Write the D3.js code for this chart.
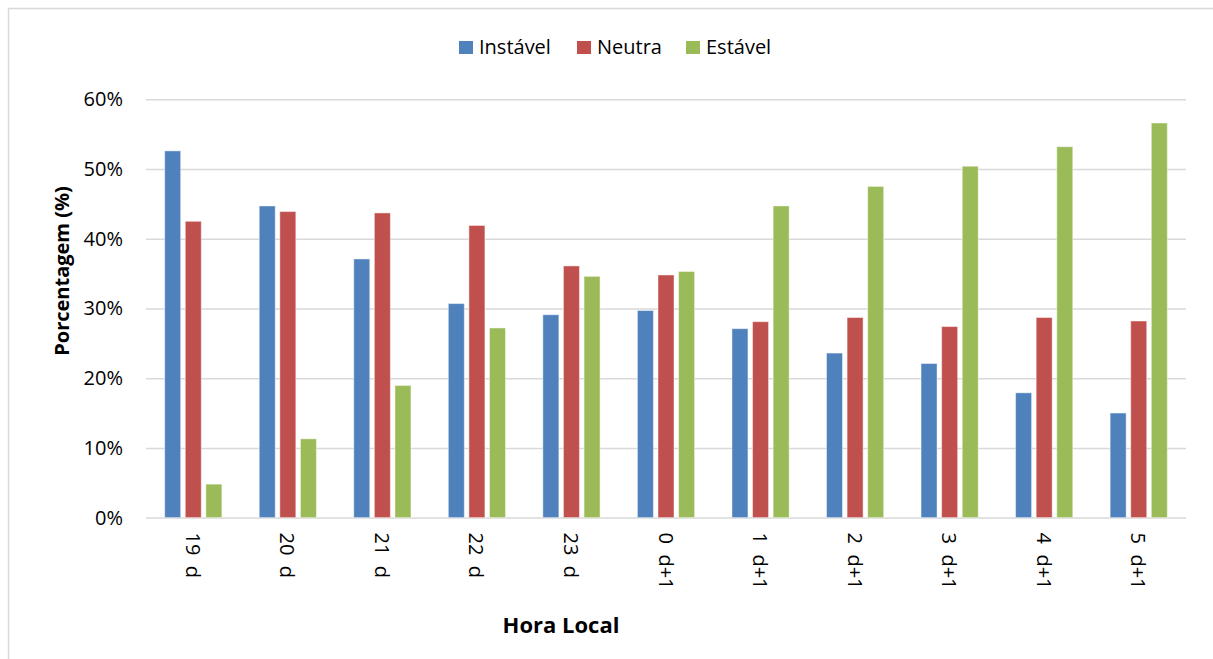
<!DOCTYPE html>
<html>
<head>
<meta charset="utf-8">
<script src="https://cdn.jsdelivr.net/npm/d3@7"></script>
<style>
  html, body { margin: 0; padding: 0; background: #fff; }
  svg { display: block; }
  text { font-family: "Open Sans", sans-serif; fill: #000; }
</style>
</head>
<body>
<svg id="chart" width="1213" height="659"></svg>
<script>
// ---- data ----
const categories = ["19  d", "20  d", "21  d", "22  d", "23  d", "0  d+1", "1  d+1", "2  d+1", "3  d+1", "4  d+1", "5  d+1"];
const seriesNames = ["Instável", "Neutra", "Estável"];
const instavel = [52.6, 44.7, 37.1, 30.7, 29.1, 29.7, 27.1, 23.6, 22.1, 17.9, 15.0];
const neutra   = [42.5, 43.9, 43.7, 41.9, 36.1, 34.8, 28.1, 28.7, 27.4, 28.7, 28.2];
const estavel  = [4.8, 11.3, 18.95, 27.2, 34.6, 35.3, 44.7, 47.5, 50.4, 53.2, 56.6];
const yTicks = [0, 10, 20, 30, 40, 50, 60];
const colors = ["#4F81BD", "#C0504D", "#9BBB59"];

const seriesValues = [instavel, neutra, estavel];
const rows = categories.map((c, i) => ({ cat: c, vals: seriesValues.map(s => s[i]) }));

const svg = d3.select("#chart");

// outer border
svg.append("rect")
  .attr("x", 8.5).attr("y", 8.5)
  .attr("width", 1400).attr("height", 900)
  .attr("fill", "none").attr("stroke", "#D9D9D9").attr("stroke-width", 1.5);

const plotLeft = 146, plotRight = 1186, plotTop = 99.3, plotBottom = 517.6;

const x0 = d3.scaleBand().domain(categories).range([plotLeft, plotRight]).padding(0);
const x1 = d3.scaleBand().domain(seriesNames).range([0, x0.bandwidth()])
  .paddingInner(0.223).paddingOuter(0.907);
const y = d3.scaleLinear().domain([0, 60]).range([plotBottom, plotTop]);

// gridlines + y labels
const yAxis = d3.axisLeft(y).tickValues(yTicks).tickSize(-(plotRight - plotLeft)).tickPadding(23)
  .tickFormat(d => d + "%");
const gy = svg.append("g").attr("transform", `translate(${plotLeft},0)`).call(yAxis);
gy.select(".domain").remove();
gy.selectAll(".tick line").attr("stroke", "#D9D9D9").attr("stroke-width", 1.5);
gy.selectAll(".tick text").attr("font-size", 20).attr("fill", "#000")
  .style("font-family", "'Open Sans', sans-serif");

// bars
const groups = svg.append("g").selectAll("g").data(rows).join("g")
  .attr("transform", d => `translate(${x0(d.cat)},0)`);
groups.selectAll("rect").data(d => d.vals.map((v, k) => ({ k, v }))).join("rect")
  .attr("x", d => x1(seriesNames[d.k]))
  .attr("y", d => y(d.v))
  .attr("width", x1.bandwidth())
  .attr("height", d => y(0) - y(d.v))
  .attr("fill", d => colors[d.k])
  .attr("stroke", "rgba(255,255,255,0.45)")
  .attr("stroke-width", 1);

// x axis labels (rotated)
const xAxis = d3.axisBottom(x0).tickSize(0).tickPadding(0);
const gx = svg.append("g").attr("transform", `translate(0,${plotBottom})`).call(xAxis);
gx.select(".domain").remove();
gx.selectAll(".tick text")
  .attr("font-size", 20).attr("fill", "#000")
  .style("font-family", "'Open Sans', sans-serif")
  .style("white-space", "pre")
  .attr("text-anchor", "start")
  .attr("dy", null)
  .attr("y", 0)
  .attr("dominant-baseline", "central")
  .attr("transform", "translate(0,15) rotate(90)");

// axis titles
svg.append("text")
  .attr("x", 561).attr("y", 633)
  .attr("text-anchor", "middle")
  .attr("font-size", 22).attr("font-weight", "bold")
  .text("Hora Local");

svg.append("text")
  .attr("transform", "translate(61,271) rotate(-90)")
  .attr("text-anchor", "middle")
  .attr("dominant-baseline", "central")
  .attr("font-size", 20).attr("font-weight", "bold")
  .text("Porcentagem (%)");

// legend
const legendX = [459, 577, 686];
const lg = svg.append("g").selectAll("g").data(seriesNames).join("g")
  .attr("transform", (d, i) => `translate(${legendX[i]},40)`);
lg.append("rect").attr("x", 0).attr("y", 1).attr("width", 14).attr("height", 13)
  .attr("fill", (d, i) => colors[i]);
lg.append("text").attr("x", 20).attr("y", 13.5)
  .attr("font-size", 20).text(d => d);
</script>
</body>
</html>
